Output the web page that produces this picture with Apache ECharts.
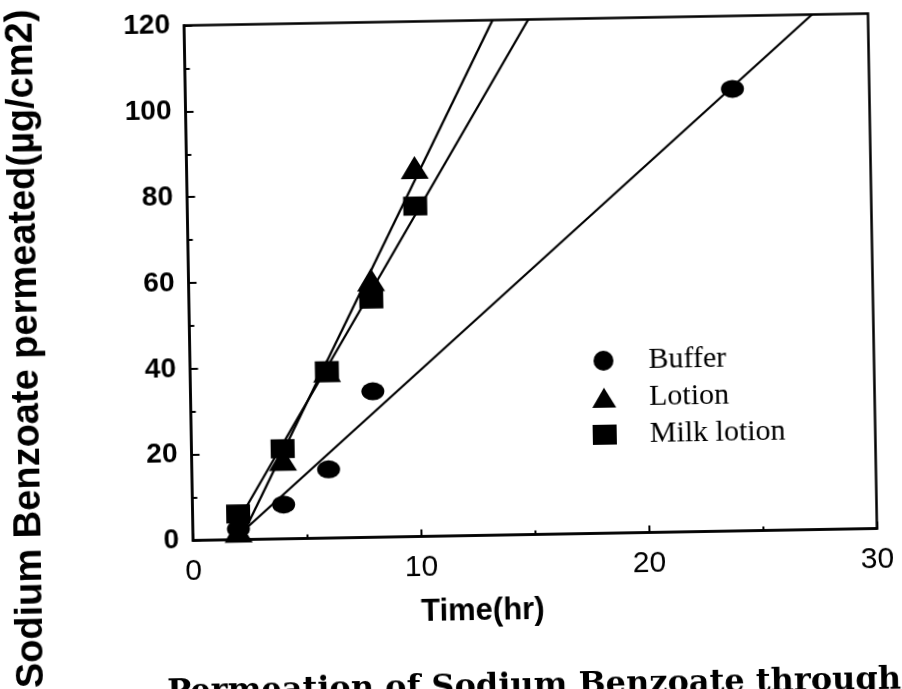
<!DOCTYPE html>
<html>
<head>
<meta charset="utf-8">
<script src="https://cdn.jsdelivr.net/npm/echarts@6/dist/echarts.min.js"></script>
<style>
  html, body { margin: 0; padding: 0; background: #fff; overflow: hidden; width: 902px; height: 689px; }
  #chart { position: absolute; left: 0; top: 0; width: 902px; height: 760px;
           transform-origin: 530.5px 277px; transform: rotate(-1deg); background: #fff; }
</style>
</head>
<body>
<div id="chart"></div>
<script>
// Cumulative amount of sodium benzoate permeated (µg/cm2) vs time (hr)
const bufferTime = [2, 4, 6, 8, 24];
const bufferAmount = [2.5, 8, 16, 34, 103];
const lotionTime = [2, 4, 6, 8, 10];
const lotionAmount = [2, 18.5, 39, 60, 86];
const milkTime = [2, 4, 6, 8, 10];
const milkAmount = [6, 21, 39, 55.5, 77];

const seriesNames = ['Buffer', 'Lotion', 'Milk lotion'];
const xRange = [0, 30];
const xStep = 10;
const yRange = [0, 120];
const yStep = 20;

const yTitle = 'Sodium Benzoate permeated(µg/cm2)';
const xTitle = 'Time(hr)';
const caption = 'Permeation of Sodium Benzoate through';

function pairs(xs, ys) { return xs.map((x, i) => [x, ys[i]]); }

// least-squares straight line, drawn from the x axis up to the top of the plot
function fitLine(xs, ys) {
  const n = xs.length;
  const mx = xs.reduce((a, b) => a + b, 0) / n;
  const my = ys.reduce((a, b) => a + b, 0) / n;
  let sxy = 0, sxx = 0;
  for (let i = 0; i < n; i++) { sxy += (xs[i] - mx) * (ys[i] - my); sxx += (xs[i] - mx) ** 2; }
  const slope = sxy / sxx;
  const icpt = my - slope * mx;
  return [[(yRange[0] - icpt) / slope, yRange[0]], [(yRange[1] - icpt) / slope, yRange[1]]];
}

const black = '#000';
const chart = echarts.init(document.getElementById('chart'), null, { renderer: 'canvas' });

function lineSeries(xs, ys) {
  return {
    type: 'line', data: fitLine(xs, ys), showSymbol: false, silent: true, z: 2,
    lineStyle: { color: black, width: 2.3 }, legendHoverLink: false
  };
}
function pointSeries(name, symbol, size, xs, ys) {
  return {
    type: 'scatter', name, symbol, symbolSize: size, data: pairs(xs, ys), z: 5,
    itemStyle: { color: black, opacity: 1 }
  };
}

chart.setOption({
  animation: false,
  backgroundColor: '#fff',
  grid: { left: 188.5, top: 19.5, width: 684, height: 515, show: true,
          borderColor: black, borderWidth: 2.5, backgroundColor: 'transparent' },
  xAxis: {
    type: 'value', min: xRange[0], max: xRange[1], interval: xStep,
    axisLine: { lineStyle: { color: black, width: 2.5 } },
    axisTick: { inside: true, length: 7, lineStyle: { color: black, width: 2 } },
    minorTick: { show: true, splitNumber: 2, length: 4, lineStyle: { color: black, width: 2 } },
    splitLine: { show: false },
    axisLabel: { color: black, fontFamily: 'Liberation Sans', fontSize: 30, margin: 16 }
  },
  yAxis: {
    type: 'value', min: yRange[0], max: yRange[1], interval: yStep,
    axisLine: { lineStyle: { color: black, width: 2.5 } },
    axisTick: { inside: true, length: 8, lineStyle: { color: black, width: 2 } },
    minorTick: { show: true, splitNumber: 2, length: 5, lineStyle: { color: black, width: 2 } },
    splitLine: { show: false },
    axisLabel: { color: black, fontFamily: 'Liberation Sans', fontWeight: 'bold', fontSize: 28, margin: 14 }
  },
  legend: {
    data: seriesNames, orient: 'vertical', left: 585, top: 342,
    itemWidth: 24, itemHeight: 20, itemGap: 7,
    textStyle: { color: black, fontFamily: 'Liberation Serif', fontSize: 30, lineHeight: 30, padding: [0, 0, 0, 28] }
  },
  graphic: [
    { type: 'text', x: 26, y: 340, rotation: Math.PI / 2,
      style: { text: yTitle, fill: black, fontFamily: 'Liberation Sans', fontWeight: 'bold', fontSize: 38,
               align: 'center', verticalAlign: 'middle' } },
    { type: 'text', x: 477, y: 610,
      style: { text: xTitle, fill: black, fontFamily: 'Liberation Sans', fontWeight: 'bold', fontSize: 31,
               align: 'center', verticalAlign: 'middle' } },
    { type: 'text', x: 160, y: 671,
      style: { text: caption, fill: black, fontFamily: 'DejaVu Serif', fontWeight: 'bold', fontSize: 32,
               align: 'left', verticalAlign: 'top' } }
  ],
  series: [
    lineSeries(bufferTime, bufferAmount),
    lineSeries(lotionTime, lotionAmount),
    lineSeries(milkTime, milkAmount),
    pointSeries(seriesNames[0], 'circle', [23, 18], bufferTime, bufferAmount),
    pointSeries(seriesNames[1], 'triangle', [28, 23], lotionTime, lotionAmount),
    pointSeries(seriesNames[2], 'rect', [24, 19], milkTime, milkAmount)
  ]
});
</script>
</body>
</html>
